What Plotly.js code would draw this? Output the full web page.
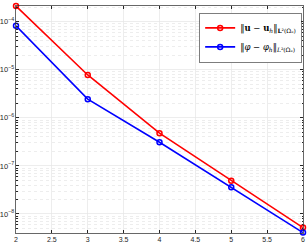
<!DOCTYPE html>
<html><head><meta charset="utf-8">
<script src="https://cdn.plot.ly/plotly-3.0.1.min.js"></script>
<style>html,body{margin:0;padding:0;background:#fff}#chart{width:307px;height:247px}</style>
</head><body><div id="chart"></div>
<script>
const xs = [2, 3, 4, 5, 6];
const errU = [2.12e-4, 7.8e-6, 4.8e-7, 4.9e-8, 5.2e-9];
const errPhi = [8.2e-5, 2.45e-6, 3.1e-7, 3.6e-8, 4.1e-9];
const nameU = '‖<b>u</b> − <b>u</b><sub><i>h</i></sub>‖<sub><b>L</b>²(Ωₑ)</sub>';
const namePhi = '‖<i>φ</i> − <i>φ</i><sub><i>h</i></sub>‖<sub><i>L</i>²(Ωₑ)</sub>';
const xTicks = [2, 2.5, 3, 3.5, 4, 4.5, 5, 5.5, 6];

const traces = [
  {x: xs, y: errU, name: nameU, mode: 'lines+markers', cliponaxis: false,
   line: {color: '#ff0000', width: 1.6},
   marker: {symbol: 'circle-open', size: 5, color: '#ff0000', line: {width: 1.5}}},
  {x: xs, y: errPhi, name: namePhi, mode: 'lines+markers', cliponaxis: false,
   line: {color: '#0000ff', width: 1.6},
   marker: {symbol: 'circle-open', size: 5, color: '#0000ff', line: {width: 1.5}}}
];

const layout = {
  width: 307, height: 247,
  margin: {l: 16, r: 4, t: 6, b: 14},
  paper_bgcolor: '#fff', plot_bgcolor: '#fff',
  font: {family: 'Liberation Sans, Arial, sans-serif', size: 7, color: '#262626'},
  showlegend: true,
  legend: {x: 0.995, y: 0.97, xanchor: 'right', yanchor: 'top',
    bgcolor: '#fff', bordercolor: '#262626', borderwidth: 0.6,
    font: {size: 8.5, family: 'DejaVu Serif, Liberation Serif, serif', color: '#000'},
    tracegroupgap: 0, itemwidth: 30},
  xaxis: {range: [2, 6], tickvals: xTicks, ticktext: xTicks.map(String),
    showgrid: true, gridcolor: '#e6e6e6', gridwidth: 0.7,
    showline: true, linecolor: '#262626', linewidth: 0.7, mirror: 'ticks',
    ticks: 'inside', ticklen: 3, tickcolor: '#262626', zeroline: false,
    tickfont: {size: 7}},
  yaxis: {type: 'log', range: [-8.396, -3.673], dtick: 1, exponentformat: 'power',
    showgrid: true, gridcolor: '#e6e6e6', gridwidth: 0.7,
    showline: true, linecolor: '#262626', linewidth: 0.7, mirror: 'ticks',
    ticks: 'inside', ticklen: 3, tickcolor: '#262626', zeroline: false,
    tickfont: {size: 6},
    minor: {dtick: 'D1', showgrid: true, gridcolor: '#e6e6e6', griddash: 'dot', gridwidth: 0.7,
      ticks: 'inside', ticklen: 1.5, tickcolor: '#262626'}}
};
Plotly.newPlot('chart', traces, layout, {staticPlot: true});
</script></body></html>
